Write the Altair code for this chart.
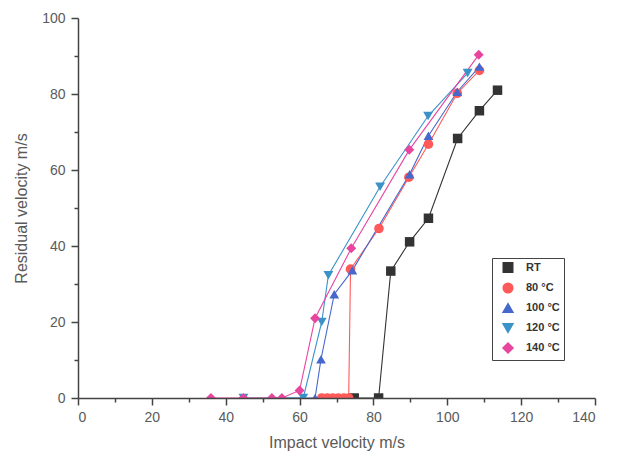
import altair as alt
import pandas as pd

series = ["RT", "80 °C", "100 °C", "120 °C", "140 °C"]
colors = ["#333333", "#ff5a5a", "#4668cc", "#3a92c8", "#e8459f"]
shapes = ["square", "circle", "triangle-up", "triangle-down", "diamond"]
marker_sizes = [90, 100, 105, 105, 130]

rt_x = [74.8, 81.4, 84.7, 89.8, 94.9, 102.8, 108.7, 113.6]
rt_y = [0, 0, 33.4, 41.1, 47.3, 68.3, 75.6, 81.0]

c80_x = [66.0, 67.5, 69.0, 70.5, 72.0, 73.3, 73.8, 81.5, 89.6, 94.9, 102.7, 108.7]
c80_y = [0, 0, 0, 0, 0, 0, 33.9, 44.6, 58.1, 66.8, 80.2, 86.2]

c100_x = [52.5, 64.2, 65.8, 69.4, 74.3, 89.8, 94.9, 102.7, 108.7]
c100_y = [0, 0, 10.2, 27.3, 33.6, 58.9, 69.0, 80.6, 87.2]

c120_x = [44.8, 61.0, 66.0, 67.8, 81.8, 94.8, 105.5]
c120_y = [0, 0, 20.0, 32.3, 55.6, 74.2, 85.5]

c140_x = [36.0, 44.8, 52.5, 55.2, 60.0, 64.2, 74.0, 89.7, 108.5]
c140_y = [0, 0, 0, 0, 2.0, 21.0, 39.4, 65.3, 90.3]

xs = [rt_x, c80_x, c100_x, c120_x, c140_x]
ys = [rt_y, c80_y, c100_y, c120_y, c140_y]

rows = []
for s, xl, yl in zip(series, xs, ys):
    for i, (x, y) in enumerate(zip(xl, yl)):
        rows.append({"series": s, "x": x, "y": y, "i": i})
df = pd.DataFrame(rows)

color_scale = alt.Scale(domain=series, range=colors)
shape_scale = alt.Scale(domain=series, range=shapes)
size_scale = alt.Scale(domain=series, range=marker_sizes)

axis_common = dict(
    domainColor="#444444", domainWidth=1.5,
    tickColor="#444444", tickWidth=1.5,
    labelColor="#5a5a5a", titleColor="#5a5a5a",
    labelFont="Liberation Sans", titleFont="Liberation Sans",
    labelFontSize=14, titleFontSize=16, titleFontWeight="normal",
    grid=False, zindex=1,
)

x_axis = alt.Axis(
    title="Impact velocity m/s",
    values=list(range(0, 141, 10)),
    labelExpr="datum.value % 20 === 0 ? datum.label : ''",
    tickSize={"condition": {"test": "datum.value % 20 === 0", "value": 7}, "value": 4},
    labelPadding=5, titlePadding=10,
    **axis_common,
)
y_axis = alt.Axis(
    title="Residual velocity m/s",
    values=list(range(0, 101, 10)),
    labelExpr="datum.value % 20 === 0 ? datum.label : ''",
    tickSize={"condition": {"test": "datum.value % 20 === 0", "value": 7}, "value": 4},
    labelPadding=6, titlePadding=12,
    **axis_common,
)

leg = alt.Legend(
    title=None, orient="none", legendX=414, legendY=240,
    strokeColor="#444444", padding=4, fillColor="white",
    labelFont="Liberation Sans", labelFontSize=11, labelFontWeight="bold",
    labelColor="#333333", symbolSize=80, rowPadding=4,
    symbolOffset=6, labelOffset=12,
)

base = alt.Chart(df).encode(
    x=alt.X("x:Q", scale=alt.Scale(domain=[0, 140], nice=False), axis=x_axis),
    y=alt.Y("y:Q", scale=alt.Scale(domain=[0, 100], nice=False), axis=y_axis),
    color=alt.Color("series:N", scale=color_scale, legend=leg),
)

lines = base.mark_line(strokeWidth=1.1, clip=True).encode(
    detail="series:N", order="i:Q",
)

points = base.mark_point(filled=True, opacity=1, clip=True).encode(
    shape=alt.Shape("series:N", scale=shape_scale, legend=leg),
    size=alt.Size("series:N", scale=size_scale, legend=None),
)

chart = (
    alt.layer(lines, points)
    .properties(
        width=517, height=380,
        autosize=alt.AutoSizeParams(type="none"),
        padding={"left": 78, "top": 18, "right": 25, "bottom": 66},
        background="white",
    )
    .configure_view(stroke=None)
)

chart.save("out.html", embed_options={"renderer": "svg", "actions": False})
